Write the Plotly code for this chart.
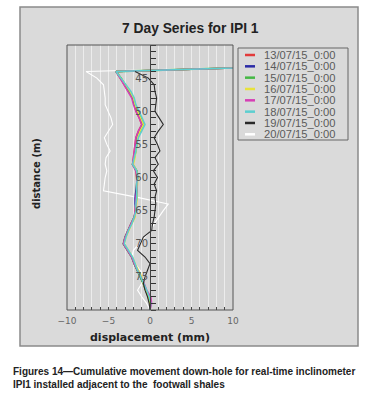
import plotly.graph_objects as go

depth = [43, 44, 45, 46, 47, 48, 49, 50, 51, 52, 53, 54, 55, 56, 57, 58, 59, 60, 61,
         62, 63, 64, 65, 66, 67, 68, 69, 70, 71, 72, 73, 74, 75, 76, 77, 78, 79, 80]

s_13 = [22, -4.1, -3.6, -3.1, -2.6, -2.1, -1.9, -1.7, -1.3, -1.0, -1.4, -1.7, -1.8, -1.9, -2.0, -2.1, -1.7, -1.6, -1.6,
        -1.6, -1.7, -1.7, -1.8, -1.9, -2.3, -2.7, -3.0, -3.2, -2.7, -2.2, -1.9, -1.5, -1.1, -0.8, -0.5, -0.2, 0.0, 0.0]
s_14 = [22, -4.1, -3.5, -3.0, -2.5, -2.1, -1.9, -1.6, -1.2, -0.9, -1.3, -1.6, -1.7, -1.8, -1.9, -2.1, -1.6, -1.5, -1.6,
        -1.7, -1.8, -1.8, -1.7, -1.9, -2.3, -2.7, -3.0, -3.2, -2.7, -2.2, -1.9, -1.5, -1.1, -0.8, -0.5, -0.2, 0.0, 0.0]
s_15 = [22, -4.1, -3.5, -3.0, -2.4, -2.0, -1.8, -1.5, -1.1, -0.8, -1.2, -1.5, -1.6, -1.7, -1.9, -2.1, -1.6, -1.5, -1.6,
        -1.6, -1.6, -1.7, -1.7, -1.9, -2.3, -2.7, -3.0, -3.2, -2.7, -2.2, -1.9, -1.5, -1.1, -0.8, -0.5, -0.2, 0.0, 0.0]
s_16 = [22, -4.1, -3.5, -2.9, -2.4, -2.0, -1.8, -1.5, -1.1, -0.8, -1.2, -1.5, -1.6, -1.7, -1.8, -2.0, -1.6, -1.5, -1.5,
        -1.6, -1.6, -1.6, -1.7, -1.8, -2.2, -2.6, -2.9, -3.1, -2.6, -2.1, -1.8, -1.4, -1.0, -0.8, -0.5, -0.2, 0.0, 0.0]
s_17 = [22, -4.1, -3.6, -3.1, -2.6, -2.2, -2.0, -1.7, -1.3, -1.0, -1.4, -1.7, -1.8, -1.9, -2.0, -2.1, -1.7, -1.6, -1.6,
        -1.6, -1.7, -1.7, -1.8, -1.9, -2.3, -2.7, -3.0, -3.2, -2.7, -2.2, -1.9, -1.5, -1.1, -0.7, -0.4, 0.1, 0.2, 0.0]
s_18 = [22, -4.1, -3.5, -2.9, -2.3, -1.9, -1.7, -1.3, -0.9, -0.6, -1.0, -1.4, -1.6, -1.7, -1.9, -2.1, -1.6, -1.5, -1.6,
        -1.6, -1.6, -1.7, -1.7, -1.9, -2.2, -2.6, -2.9, -3.1, -2.6, -2.1, -1.8, -1.5, -1.1, -0.7, -0.4, -0.1, 0.1, 0.0]
depth_19 = [44, 45, 46, 47, 48, 49, 50, 51, 52, 53, 54, 55, 56, 57, 58, 59, 60, 61,
            62, 63, 64, 65, 66, 67, 68, 69, 70, 71, 72, 73, 74, 75, 76, 77, 78, 79, 80]
s_19 = [-1.8, -0.2, 0.5, 0.6, 0.8, 0.7, 0.6, 1.1, 1.6, 1.0, 0.5, 0.9, 1.2, 0.6, 1.0, 0.4, 0.9, 0.5,
        0.8, 0.6, 0.7, 0.6, 0.5, 0.3, 0.2, -0.8, -1.2, -1.5, -0.6, 0.0, -0.3, -0.6, -0.8, -0.6, -0.3, -0.1, 0.0]
s_20 = [22, -7.7, -6.4, -5.6, -5.5, -5.4, -5.4, -5.0, -4.7, -4.5, -5.0, -5.5, -5.2, -4.8, -5.3, -5.4, -5.2, -5.4, -5.5,
        -5.6, -1.5, 2.2, 1.6, 1.0, 0.5, 0.1, -0.6, -1.4, -2.0, -2.2, -1.8, -1.2, -0.6, -1.0, -1.5, -1.0, -0.4, 0.0]

labels = ["13/07/15_0:00", "14/07/15_0:00", "15/07/15_0:00", "16/07/15_0:00",
          "17/07/15_0:00", "18/07/15_0:00", "19/07/15_0:00", "20/07/15_0:00"]
depth_ticks = [45, 50, 55, 60, 65, 70, 75]
depths = [depth, depth, depth, depth, depth, depth, depth_19, depth]
series = [s_13, s_14, s_15, s_16, s_17, s_18, s_19, s_20]
colors = ["#e23a3a", "#2b2ba6", "#45b845", "#e8e23c", "#d63fb5", "#5ccfd0", "#2a2a2a", "#ffffff"]
widths = [1.5, 1.5, 1.8, 1.5, 1.5, 1.5, 1.1, 1.1]

fig = go.Figure()
order = [7, 6, 0, 1, 2, 3, 4, 5]
for i in order:
    fig.add_trace(go.Scatter(x=series[i], y=depths[i], mode="lines", name=labels[i],
                             yaxis="y2" if i == 6 else "y",
                             line=dict(color=colors[i], width=widths[i]), showlegend=False))

L, R, T, B = 67, 233, 45, 310
def px(x):
    return (x - L) / (R - L)
def py(y):
    return (B - y) / (B - T)

shapes = [
    dict(type="rect", xref="paper", yref="paper", x0=px(20), x1=px(358), y0=py(346), y1=py(7),
         fillcolor="#dadada", line=dict(color="#8a8a8a", width=1.5), layer="below"),
    dict(type="rect", xref="paper", yref="paper", x0=0, x1=1, y0=0, y1=1,
         fillcolor="#d5d5d5", line=dict(width=0), layer="below"),
    dict(type="rect", xref="paper", yref="paper", x0=0, x1=1, y0=0, y1=1,
         fillcolor="rgba(0,0,0,0)", line=dict(color="#555555", width=1), layer="above"),
    dict(type="rect", xref="paper", yref="paper", x0=px(238), x1=px(348), y0=py(140), y1=py(48),
         fillcolor="#dadada", line=dict(color="#666666", width=1), layer="above"),
]
annotations = []
for i, (lab, c) in enumerate(zip(labels, colors)):
    yc = 55 + i * 11.33
    shapes.append(dict(type="line", xref="paper", yref="paper", x0=px(245), x1=px(255),
                       y0=py(yc), y1=py(yc), line=dict(color=c, width=2.5), layer="above"))
    annotations.append(dict(text=lab, xref="paper", yref="paper", x=px(262), y=py(yc),
                            xanchor="left", yanchor="middle", showarrow=False,
                            font=dict(family="Liberation Sans, Arial", size=11.2, color="#5a5a5a")))

annotations += [
    dict(text="<b>7 Day Series for IPI 1</b>", xref="paper", yref="paper", x=px(190), y=py(28),
         xanchor="center", yanchor="middle", showarrow=False,
         font=dict(family="Liberation Sans, Arial", size=13.8, color="#222222")),
    dict(text="<b>displacement (mm)</b>", xref="paper", yref="paper", x=px(150), y=py(337),
         xanchor="center", yanchor="middle", showarrow=False,
         font=dict(family="DejaVu Sans", size=11, color="#222222")),
    dict(text="<b>distance (m)</b>", xref="paper", yref="paper", x=px(36), y=py(174),
         xanchor="center", yanchor="middle", showarrow=False, textangle=-90,
         font=dict(family="DejaVu Sans", size=10, color="#222222")),
    dict(text="<b>Figures 14\u2014Cumulative movement down-hole for real-time inclinometer<br>"
              "IPI1 installed adjacent to the  footwall shales</b>",
         xref="paper", yref="paper", x=px(11), y=py(377.5), xanchor="left", yanchor="middle",
         align="left", showarrow=False,
         font=dict(family="Liberation Sans, Arial", size=10, color="#222222")),
]

fig.update_layout(
    width=368, height=402,
    margin=dict(l=L, r=368 - R, t=T, b=402 - B, pad=0),
    paper_bgcolor="#ffffff", plot_bgcolor="rgba(0,0,0,0)",
    shapes=shapes, annotations=annotations,
    xaxis=dict(range=[-10, 10], dtick=5, tick0=0, ticks="inside", ticklen=3, tickcolor="#444",
               showgrid=True, gridcolor="#ececec", gridwidth=1, zeroline=False, showline=False,
               ticklabelstandoff=4,
               minor=dict(dtick=1, ticks="inside", ticklen=3, tickcolor="#444",
                          showgrid=True, gridcolor="#ececec", gridwidth=1),
               tickfont=dict(family="DejaVu Sans", size=9, color="#666666")),
    yaxis=dict(range=[80, 40], tickmode="array", tickvals=depth_ticks, ticks="",
               anchor="free", position=0.5, showgrid=False, zeroline=False,
               showline=True, linecolor="#444444", linewidth=1,
               tickfont=dict(family="DejaVu Sans", size=10, color="#555555")),
    yaxis2=dict(range=[80, 40], overlaying="y", matches="y", side="right",
                anchor="free", position=0.5, showgrid=False, zeroline=False, showline=False,
                showticklabels=False, tickmode="linear", tick0=0, dtick=1,
                ticks="outside", ticklen=5, tickwidth=1, tickcolor="#333333"),
)

fig.write_html("out.html", post_script="document.body.style.margin='0';",
               config={"displayModeBar": False})
